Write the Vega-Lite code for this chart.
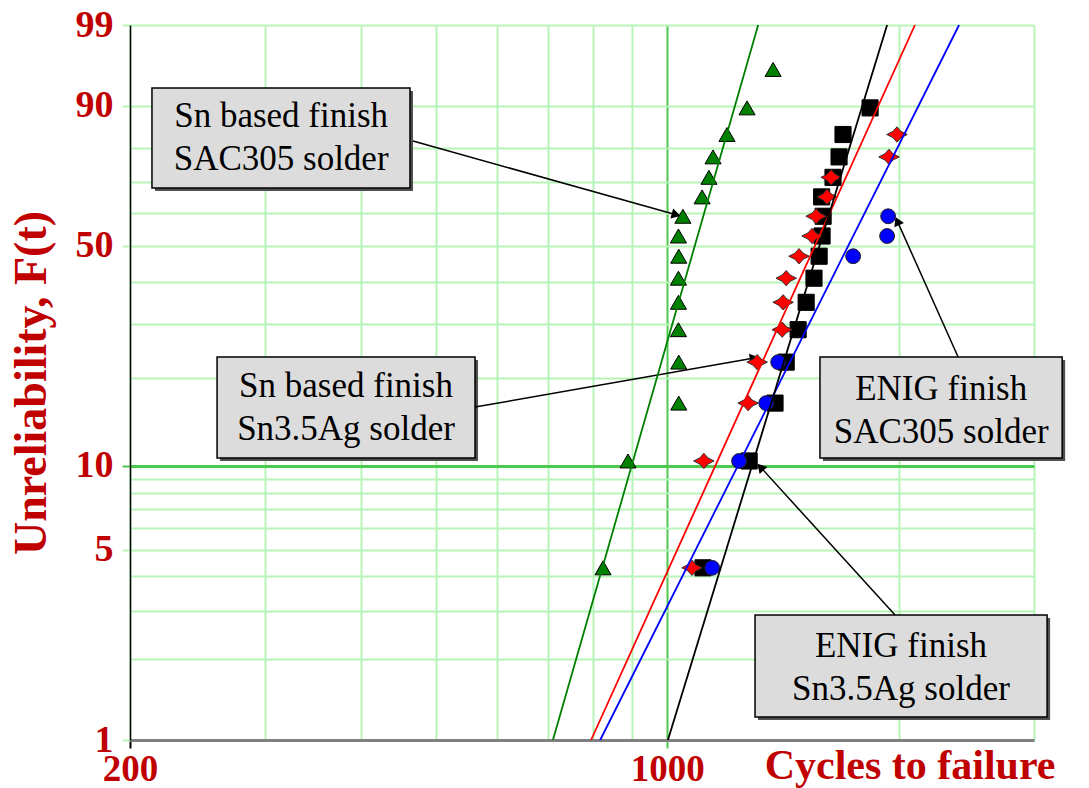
{
  "$schema": "https://vega.github.io/schema/vega-lite/v6.json",
  "width": 904,
  "height": 715,
  "autosize": {"type": "none"},
  "padding": {"left": 130, "top": 25, "right": 55, "bottom": 48},
  "background": "white",
  "config": {"view": {"stroke": null}, "font": "Liberation Serif"},
  "datasets": {
    "points": [
      {"series": "Sn/SAC305", "cycles": 825, "F": 4.3},
      {"series": "Sn/SAC305", "cycles": 889, "F": 10.4},
      {"series": "Sn/SAC305", "cycles": 1035, "F": 16.5},
      {"series": "Sn/SAC305", "cycles": 1035, "F": 22.6},
      {"series": "Sn/SAC305", "cycles": 1034, "F": 28.7},
      {"series": "Sn/SAC305", "cycles": 1034, "F": 34.8},
      {"series": "Sn/SAC305", "cycles": 1034, "F": 40.9},
      {"series": "Sn/SAC305", "cycles": 1035, "F": 47.0},
      {"series": "Sn/SAC305", "cycles": 1034, "F": 53.0},
      {"series": "Sn/SAC305", "cycles": 1048, "F": 59.1},
      {"series": "Sn/SAC305", "cycles": 1110, "F": 65.2},
      {"series": "Sn/SAC305", "cycles": 1133, "F": 71.3},
      {"series": "Sn/SAC305", "cycles": 1147, "F": 77.4},
      {"series": "Sn/SAC305", "cycles": 1196, "F": 83.5},
      {"series": "Sn/SAC305", "cycles": 1270, "F": 89.6},
      {"series": "Sn/SAC305", "cycles": 1373, "F": 95.7},
      {"series": "ENIG/Sn3.5Ag", "cycles": 1113, "F": 4.3},
      {"series": "ENIG/Sn3.5Ag", "cycles": 1278, "F": 10.4},
      {"series": "ENIG/Sn3.5Ag", "cycles": 1381, "F": 16.5},
      {"series": "ENIG/Sn3.5Ag", "cycles": 1428, "F": 22.6},
      {"series": "ENIG/Sn3.5Ag", "cycles": 1480, "F": 28.7},
      {"series": "ENIG/Sn3.5Ag", "cycles": 1516, "F": 34.8},
      {"series": "ENIG/Sn3.5Ag", "cycles": 1552, "F": 40.9},
      {"series": "ENIG/Sn3.5Ag", "cycles": 1576, "F": 47.0},
      {"series": "ENIG/Sn3.5Ag", "cycles": 1590, "F": 53.0},
      {"series": "ENIG/Sn3.5Ag", "cycles": 1595, "F": 59.1},
      {"series": "ENIG/Sn3.5Ag", "cycles": 1588, "F": 65.2},
      {"series": "ENIG/Sn3.5Ag", "cycles": 1643, "F": 71.3},
      {"series": "ENIG/Sn3.5Ag", "cycles": 1673, "F": 77.4},
      {"series": "ENIG/Sn3.5Ag", "cycles": 1693, "F": 83.5},
      {"series": "ENIG/Sn3.5Ag", "cycles": 1836, "F": 89.6},
      {"series": "ENIG/SAC305", "cycles": 1144, "F": 4.3},
      {"series": "ENIG/SAC305", "cycles": 1240, "F": 10.4},
      {"series": "ENIG/SAC305", "cycles": 1345, "F": 16.5},
      {"series": "ENIG/SAC305", "cycles": 1394, "F": 22.6},
      {"series": "ENIG/SAC305", "cycles": 1745, "F": 47.0},
      {"series": "ENIG/SAC305", "cycles": 1932, "F": 53.0},
      {"series": "ENIG/SAC305", "cycles": 1938, "F": 59.1},
      {"series": "Sn/Sn3.5Ag", "cycles": 1077, "F": 4.3},
      {"series": "Sn/Sn3.5Ag", "cycles": 1116, "F": 10.4},
      {"series": "Sn/Sn3.5Ag", "cycles": 1274, "F": 16.5},
      {"series": "Sn/Sn3.5Ag", "cycles": 1309, "F": 22.6},
      {"series": "Sn/Sn3.5Ag", "cycles": 1411, "F": 28.7},
      {"series": "Sn/Sn3.5Ag", "cycles": 1415, "F": 34.8},
      {"series": "Sn/Sn3.5Ag", "cycles": 1428, "F": 40.9},
      {"series": "Sn/Sn3.5Ag", "cycles": 1484, "F": 47.0},
      {"series": "Sn/Sn3.5Ag", "cycles": 1543, "F": 53.0},
      {"series": "Sn/Sn3.5Ag", "cycles": 1562, "F": 59.1},
      {"series": "Sn/Sn3.5Ag", "cycles": 1614, "F": 65.2},
      {"series": "Sn/Sn3.5Ag", "cycles": 1634, "F": 71.3},
      {"series": "Sn/Sn3.5Ag", "cycles": 1943, "F": 77.4},
      {"series": "Sn/Sn3.5Ag", "cycles": 1990, "F": 83.5}
    ],
    "fits": [
      {"series": "Sn/SAC305", "cycles": 710, "F": 1},
      {"series": "Sn/SAC305", "cycles": 1313, "F": 99},
      {"series": "Sn/Sn3.5Ag", "cycles": 796, "F": 1},
      {"series": "Sn/Sn3.5Ag", "cycles": 2100, "F": 99},
      {"series": "ENIG/SAC305", "cycles": 818, "F": 1},
      {"series": "ENIG/SAC305", "cycles": 2397, "F": 99},
      {"series": "ENIG/Sn3.5Ag", "cycles": 1002, "F": 1},
      {"series": "ENIG/Sn3.5Ag", "cycles": 1932, "F": 99}
    ],
    "boxes": [
      {"cycles": 213.6, "cycles2": 462.7, "F": 93.17, "F2": 67.99},
      {"cycles": 259.6, "cycles2": 562.2, "F": 23.49, "F2": 10.65},
      {"cycles": 1580, "cycles2": 3264, "F": 23.49, "F2": 10.65},
      {"cycles": 1300.8, "cycles2": 3120, "F": 2.89, "F2": 1.216}
    ],
    "labels": [
      {"cycles": 314.5, "F": 82.6, "label": "Sn based finish\nSAC305 solder"},
      {"cycles": 382, "F": 15.94, "label": "Sn based finish\nSn3.5Ag solder"},
      {"cycles": 2272, "F": 15.6, "label": "ENIG finish\nSAC305 solder"},
      {"cycles": 2014, "F": 1.86, "label": "ENIG finish\nSn3.5Ag solder"}
    ],
    "arrows": [
      {"id": 1, "cycles": 1027, "F": 59.6, "cycles2": 466.9, "F2": 81.8},
      {"id": 2, "cycles": 1298, "F": 23.3, "cycles2": 562.2, "F2": 16.0},
      {"id": 3, "cycles": 1992, "F": 57.6, "cycles2": 2390, "F2": 23.49},
      {"id": 4, "cycles": 1322, "F": 9.9, "cycles2": 1978.6, "F2": 2.89}
    ]
  },
  "encoding": {
    "x": {
      "field": "cycles",
      "type": "quantitative",
      "scale": {"type": "log", "domain": [200, 3000], "nice": false},
      "axis": {
        "values": [200, 300, 400, 500, 600, 700, 800, 900, 1000, 2000, 3000],
        "labelExpr": "(datum.value == 200 || datum.value == 1000) ? format(datum.value, 'd') : ''",
        "grid": true,
        "gridColor": {"condition": {"test": "datum.value == 1000", "value": "#4ec94e"}, "value": "#b8f5b8"},
        "gridWidth": 2,
        "tickSize": 8,
        "tickWidth": 2,
        "tickColor": {"condition": [{"test": "datum.value == 1000", "value": "#4ec94e"}, {"test": "datum.value == 200", "value": "black"}], "value": "transparent"},
        "domainColor": "#808080",
        "domainWidth": 3,
        "labelFont": "Liberation Serif",
        "labelFontWeight": "bold",
        "labelFontSize": 37,
        "labelColor": "#c00000",
        "labelPadding": 3,
        "labelOverlap": false,
        "labelFlush": false,
        "labelBound": false,
        "title": "Cycles to failure",
        "titleFont": "Liberation Serif",
        "titleFontWeight": "bold",
        "titleFontSize": 42,
        "titleColor": "#c00000",
        "titleX": 925,
        "titleY": 38,
        "titleAlign": "right",
        "titleBaseline": "alphabetic"
      }
    },
    "y": {
      "field": "w",
      "type": "quantitative",
      "scale": {"domain": [-4.60015, 1.52718], "nice": false, "zero": false},
      "axis": {
        "values": [-4.60015, -3.90194, -3.49137, -3.19853, -2.9702, -2.78263, -2.62319, -2.48433, -2.36116, -2.25037, -1.49994, -1.03093, -0.67172, -0.36651, -0.08742, 0.18563, 0.47588, 0.83403, 1.52718],
        "labelExpr": "indexof([1,5,10,50,90,99], round(100*(1-exp(-exp(datum.value))))) >= 0 ? '' + round(100*(1-exp(-exp(datum.value)))) : ''",
        "grid": true,
        "gridColor": {"condition": {"test": "abs(datum.value + 2.25037) < 0.001", "value": "#4ec94e"}, "value": "#b8f5b8"},
        "gridWidth": {"condition": {"test": "abs(datum.value + 2.25037) < 0.001", "value": 3}, "value": 2},
        "tickSize": 8,
        "tickWidth": 2,
        "tickColor": {"condition": [{"test": "abs(datum.value + 2.25037) < 0.001", "value": "#4ec94e"}, {"test": "indexof([1,5,50,90,99], round(100*(1-exp(-exp(datum.value))))) >= 0", "value": "#b8f5b8"}], "value": "transparent"},
        "domainColor": "black",
        "domainWidth": 1.5,
        "labelFont": "Liberation Serif",
        "labelFontWeight": "bold",
        "labelFontSize": 38,
        "labelColor": "#c00000",
        "labelPadding": 9,
        "labelOverlap": false,
        "labelFlush": false,
        "labelBound": false,
        "title": "Unreliability, F(t)",
        "titleFont": "Liberation Serif",
        "titleFontWeight": "bold",
        "titleFontSize": 46,
        "titleColor": "#c00000",
        "titleX": -85,
        "titleY": 357.5,
        "titleAngle": 270,
        "titleAlign": "center",
        "titleBaseline": "alphabetic"
      }
    }
  },
  "layer": [
    {
      "data": {"values": [{}]},
      "mark": {"type": "rule", "color": "#404040", "strokeWidth": 3},
      "encoding": {"x": {"datum": 200}, "x2": {"datum": 3000}, "y": {"datum": 1.52718}}
    },
    {
      "data": {"name": "boxes"},
      "transform": [
        {"calculate": "log(-log(1 - datum.F/100))", "as": "w"},
        {"calculate": "log(-log(1 - datum.F2/100))", "as": "w2"}
      ],
      "mark": {"type": "rect", "fill": "#505050", "xOffset": 3, "x2Offset": 3, "yOffset": 3, "y2Offset": 3},
      "encoding": {"x2": {"field": "cycles2"}, "y2": {"field": "w2"}}
    },
    {
      "data": {"name": "boxes"},
      "transform": [
        {"calculate": "log(-log(1 - datum.F/100))", "as": "w"},
        {"calculate": "log(-log(1 - datum.F2/100))", "as": "w2"}
      ],
      "mark": {"type": "rect", "fill": "#dcdcdc", "stroke": "black", "strokeWidth": 1.5},
      "encoding": {"x2": {"field": "cycles2"}, "y2": {"field": "w2"}}
    },
    {
      "data": {"name": "labels"},
      "transform": [{"calculate": "log(-log(1 - datum.F/100))", "as": "w"}],
      "mark": {"type": "text", "font": "Liberation Serif", "fontSize": 35, "lineHeight": 43, "lineBreak": "\n", "align": "center", "baseline": "middle", "dy": -21.5, "color": "black"},
      "encoding": {"text": {"field": "label", "type": "nominal"}}
    },
    {
      "data": {"name": "arrows"},
      "transform": [
        {"calculate": "log(-log(1 - datum.F/100))", "as": "w"},
        {"calculate": "log(-log(1 - datum.F2/100))", "as": "w2"}
      ],
      "mark": {"type": "rule", "color": "black", "strokeWidth": 1.5},
      "encoding": {"x2": {"field": "cycles2"}, "y2": {"field": "w2"}}
    },
    {
      "data": {"name": "arrows"},
      "transform": [{"filter": "datum.id == 1"}, {"calculate": "log(-log(1 - datum.F/100))", "as": "w"}],
      "mark": {"type": "point", "shape": "triangle-right", "filled": true, "color": "black", "size": 110, "angle": 15.7, "opacity": 1},
      "encoding": {}
    },
    {
      "data": {"name": "arrows"},
      "transform": [{"filter": "datum.id == 2"}, {"calculate": "log(-log(1 - datum.F/100))", "as": "w"}],
      "mark": {"type": "point", "shape": "triangle-right", "filled": true, "color": "black", "size": 110, "angle": -9.9, "opacity": 1},
      "encoding": {}
    },
    {
      "data": {"name": "arrows"},
      "transform": [{"filter": "datum.id == 3"}, {"calculate": "log(-log(1 - datum.F/100))", "as": "w"}],
      "mark": {"type": "point", "shape": "triangle-right", "filled": true, "color": "black", "size": 110, "angle": -114, "opacity": 1},
      "encoding": {}
    },
    {
      "data": {"name": "arrows"},
      "transform": [{"filter": "datum.id == 4"}, {"calculate": "log(-log(1 - datum.F/100))", "as": "w"}],
      "mark": {"type": "point", "shape": "triangle-right", "filled": true, "color": "black", "size": 110, "angle": -132, "opacity": 1},
      "encoding": {}
    },
    {
      "data": {"name": "points"},
      "transform": [{"filter": "datum.series == 'Sn/SAC305'"}, {"calculate": "log(-log(1 - datum.F/100))", "as": "w"}],
      "mark": {"type": "point", "shape": "triangle-up", "filled": true, "fill": "#008000", "stroke": "black", "strokeWidth": 1, "size": 260, "opacity": 1},
      "encoding": {}
    },
    {
      "data": {"name": "points"},
      "transform": [{"filter": "datum.series == 'ENIG/Sn3.5Ag'"}, {"calculate": "log(-log(1 - datum.F/100))", "as": "w"}],
      "mark": {"type": "point", "shape": "square", "filled": true, "fill": "#000000", "stroke": "black", "strokeWidth": 1, "size": 260, "opacity": 1},
      "encoding": {}
    },
    {
      "data": {"name": "points"},
      "transform": [{"filter": "datum.series == 'ENIG/SAC305'"}, {"calculate": "log(-log(1 - datum.F/100))", "as": "w"}],
      "mark": {"type": "point", "shape": "circle", "filled": true, "fill": "#0000ff", "stroke": "#202020", "strokeWidth": 1, "size": 220, "opacity": 1},
      "encoding": {}
    },
    {
      "data": {"name": "points"},
      "transform": [{"filter": "datum.series == 'Sn/Sn3.5Ag'"}, {"calculate": "log(-log(1 - datum.F/100))", "as": "w"}],
      "mark": {"type": "point", "shape": "M-1,0L-0.4,-0.3L0,-0.75L0.4,-0.3L1,0L0.4,0.3L0,0.75L-0.4,0.3Z", "filled": true, "fill": "#ff0000", "stroke": "#303030", "strokeWidth": 1, "size": 420, "opacity": 1},
      "encoding": {}
    },
    {
      "data": {"name": "fits"},
      "transform": [{"calculate": "log(-log(1 - datum.F/100))", "as": "w"}],
      "mark": {"type": "line", "strokeWidth": 1.8},
      "encoding": {
        "color": {"field": "series", "type": "nominal", "scale": {"domain": ["Sn/SAC305", "Sn/Sn3.5Ag", "ENIG/SAC305", "ENIG/Sn3.5Ag"], "range": ["#008000", "#ff0000", "#0000ff", "#000000"]}, "legend": null}
      }
    }
  ]
}
